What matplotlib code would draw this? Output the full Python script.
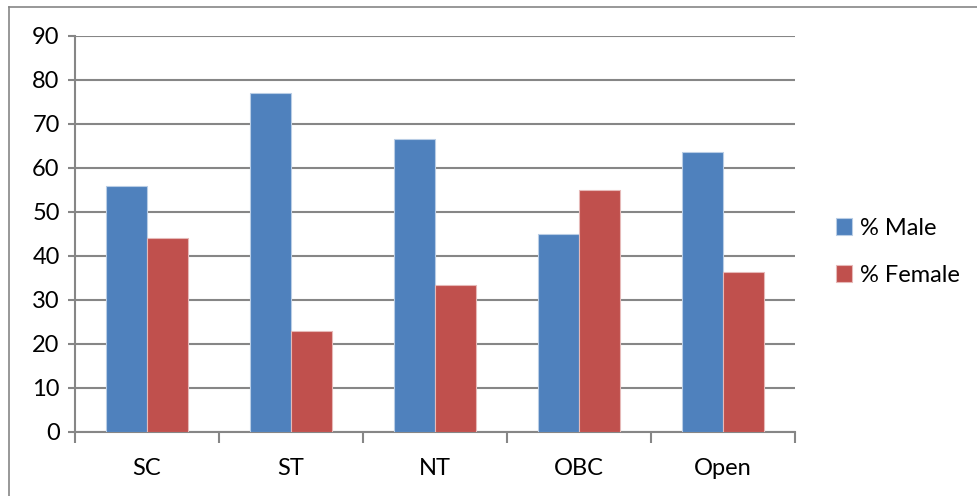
import numpy as np
import matplotlib.pyplot as plt
from matplotlib.lines import Line2D

categories = ['SC', 'ST', 'NT', 'OBC', 'Open']
male = [55.8, 77.0, 66.7, 44.9, 63.6]
female = [44.2, 23.0, 33.3, 55.1, 36.4]
yticks = [0, 10, 20, 30, 40, 50, 60, 70, 80, 90]

plt.rcParams['font.family'] = ['Lato', 'DejaVu Sans']

fig = plt.figure(figsize=(9.77, 4.96), dpi=100)
ax = fig.add_axes([75 / 977, 1 - 432 / 496, 720 / 977, 396 / 496])

x = np.arange(len(categories))
w = 0.285
grid_c = '#868686'

ax.bar(x - w / 2, male, width=w, color='#4F81BD', edgecolor='#B9CDE5',
       linewidth=0.8, label='% Male', zorder=3)
ax.bar(x + w / 2, female, width=w, color='#C0504D', edgecolor='#E6B9B8',
       linewidth=0.8, label='% Female', zorder=3)

ax.set_xlim(-0.5, len(categories) - 0.5)
ax.set_ylim(0, 90)
ax.set_yticks(yticks)
ax.yaxis.grid(True, color=grid_c, linewidth=1.5, zorder=0)

# category labels centred, tick marks on the group boundaries
ax.set_xticks(x)
ax.set_xticklabels(categories, fontsize=17)
ax.tick_params(axis='x', length=0, pad=19)
ax.set_xticks(np.arange(-0.5, len(categories)), minor=True)
ax.tick_params(axis='x', which='minor', length=8, width=1.5, color=grid_c)
ax.tick_params(axis='y', labelsize=17, length=5, width=1.5, color=grid_c, pad=6)

for s in ['top', 'right']:
    ax.spines[s].set_visible(False)
for s in ['left', 'bottom']:
    ax.spines[s].set_color(grid_c)
    ax.spines[s].set_linewidth(1.5)

ax.legend(loc='center left', bbox_to_anchor=(1.027, 0.455), frameon=False,
          fontsize=17, handlelength=0.7, handleheight=0.7,
          handletextpad=0.35, labelspacing=1.1)

# outer chart border (left and top edges)
fig.add_artist(Line2D([8.5 / 977, 8.5 / 977], [0, 1 - 7 / 496], color=grid_c,
                      linewidth=1.2, transform=fig.transFigure))
fig.add_artist(Line2D([8.5 / 977, 1], [1 - 7 / 496, 1 - 7 / 496], color=grid_c,
                      linewidth=1.2, transform=fig.transFigure))

fig.savefig('out.png', dpi=100)
